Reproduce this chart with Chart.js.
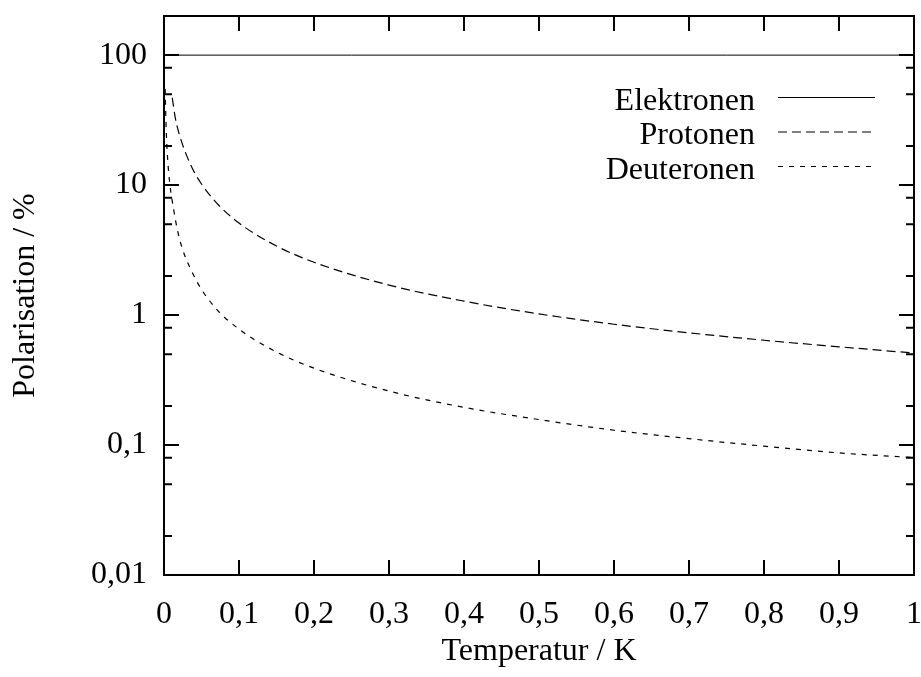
<!DOCTYPE html>
<html>
<head>
<meta charset="utf-8">
<title>Polarisation</title>
<script src="https://cdn.jsdelivr.net/npm/chart.js@4.4.1/dist/chart.umd.min.js"></script>
<style>
  html, body { margin: 0; padding: 0; background: #fff; }
  #wrap { width: 921px; height: 677px; position: relative; }
</style>
</head>
<body>
<div id="wrap"><canvas id="myChart"></canvas></div>
<script>
// Werte
const tempE = [0, 0.25, 0.5, 0.75, 1];
const polE = [100, 100, 100, 100, 100];

const tempP = [0.011, 0.015, 0.02, 0.03, 0.04, 0.05, 0.07, 0.1, 0.15, 0.2, 0.3, 0.4, 0.5, 0.6, 0.7, 0.8, 0.9, 1.0];
const polP = [47, 33, 25, 17, 12.7, 10.2, 7.3, 5.1, 3.4, 2.55, 1.7, 1.28, 1.02, 0.85, 0.73, 0.64, 0.57, 0.51];

const tempD = [0.0015, 0.003, 0.005, 0.0075, 0.0103, 0.02, 0.04, 0.066, 0.1, 0.15, 0.2, 0.3, 0.4, 0.5, 0.6, 0.7, 0.8, 0.9, 1.0];
const polD = [55, 26, 15.5, 10.5, 8.0, 4.0, 2.0, 1.18, 0.78, 0.52, 0.39, 0.26, 0.195, 0.157, 0.13, 0.112, 0.098, 0.087, 0.080];

const seriesNames = ['Elektronen', 'Protonen', 'Deuteronen'];

const xTickValues = [0, 0.1, 0.2, 0.3, 0.4, 0.5, 0.6, 0.7, 0.8, 0.9, 1];
const xTickLabels = ['0', '0,1', '0,2', '0,3', '0,4', '0,5', '0,6', '0,7', '0,8', '0,9', '1'];
const yTickValues = [0.01, 0.1, 1, 10, 100];
const yTickLabels = ['0,01', '0,1', '1', '10', '100'];
const yMinorTicks = [0.02, 0.05, 0.08, 0.2, 0.5, 0.8, 2, 5, 8, 20, 50, 80];

const toPoints = (xs, ys) => xs.map((x, i) => ({ x: x, y: ys[i] }));

Chart.defaults.font.family = "'Liberation Serif', 'DejaVu Serif', serif";
Chart.defaults.font.size = 32;
Chart.defaults.color = '#000';

// Rahmen und Striche nach innen, wie bei gnuplot
const framePlugin = {
    id: 'frame',
    afterDatasetsDraw(chart) {
        const { ctx, chartArea: a, scales } = chart;
        ctx.save();
        ctx.strokeStyle = '#000';
        ctx.lineWidth = 2;
        ctx.setLineDash([]);
        ctx.beginPath();
        xTickValues.forEach(v => {
            const px = scales.x.getPixelForValue(v);
            ctx.moveTo(px, a.bottom); ctx.lineTo(px, a.bottom - 15);
            ctx.moveTo(px, a.top); ctx.lineTo(px, a.top + 15);
        });
        yTickValues.forEach(v => {
            const py = scales.y.getPixelForValue(v);
            ctx.moveTo(a.left, py); ctx.lineTo(a.left + 15, py);
            ctx.moveTo(a.right, py); ctx.lineTo(a.right - 15, py);
        });
        yMinorTicks.forEach(v => {
            const py = scales.y.getPixelForValue(v);
            ctx.moveTo(a.left, py); ctx.lineTo(a.left + 8, py);
            ctx.moveTo(a.right, py); ctx.lineTo(a.right - 8, py);
        });
        ctx.stroke();
        ctx.strokeRect(a.left, a.top, a.right - a.left, a.bottom - a.top);
        ctx.restore();
    }
};

// Legende rechts oben: Text rechtsbündig, Linie daneben
const keyPlugin = {
    id: 'key',
    afterDraw(chart) {
        const ctx = chart.ctx;
        ctx.save();
        ctx.font = "32px 'Liberation Serif', serif";
        ctx.fillStyle = '#000';
        ctx.textAlign = 'right';
        ctx.textBaseline = 'alphabetic';
        chart.data.datasets.forEach((ds, i) => {
            const y = 97.5 + i * 34.5;
            ctx.fillText(ds.label, 755, y + 12);
            ctx.strokeStyle = ds.borderColor;
            ctx.lineWidth = ds.borderWidth;
            ctx.setLineDash(ds.borderDash || []);
            ctx.beginPath();
            ctx.moveTo(778, y);
            ctx.lineTo(875, y);
            ctx.stroke();
        });
        ctx.restore();
    }
};

new Chart(document.getElementById('myChart'), {
    type: 'line',
    data: {
        datasets: [
            {
                label: seriesNames[0],
                data: toPoints(tempE, polE),
                borderColor: '#000',
                borderWidth: 1,
                pointRadius: 0
            },
            {
                label: seriesNames[1],
                data: toPoints(tempP, polP),
                borderColor: '#000',
                borderWidth: 1.2,
                borderDash: [9, 5],
                pointRadius: 0,
                cubicInterpolationMode: 'monotone'
            },
            {
                label: seriesNames[2],
                data: toPoints(tempD, polD),
                borderColor: '#000',
                borderWidth: 1.2,
                borderDash: [5, 6],
                pointRadius: 0,
                cubicInterpolationMode: 'monotone'
            }
        ]
    },
    options: {
        responsive: true,
        maintainAspectRatio: false,
        animation: false,
        layout: { padding: { top: 16, right: 7, left: 0, bottom: 0 } },
        plugins: {
            legend: { display: false },
            tooltip: { enabled: false }
        },
        scales: {
            x: {
                type: 'linear',
                min: 0,
                max: 1,
                grid: { display: false, drawTicks: false },
                border: { display: false },
                afterBuildTicks: s => { s.ticks = xTickValues.map(v => ({ value: v })); },
                afterFit: s => {
                    s.height = 102;
                    s.paddingLeft = 0;
                    s.paddingRight = 0;
                },
                ticks: {
                    padding: 20,
                    maxRotation: 0,
                    autoSkip: false,
                    callback: (v, i) => xTickLabels[i]
                },
                title: {
                    display: true,
                    text: 'Temperatur / K',
                    padding: { top: 0, bottom: 6 }
                }
            },
            y: {
                type: 'logarithmic',
                min: 0.01,
                max: 200,
                grid: { display: false, drawTicks: false },
                border: { display: false },
                afterBuildTicks: s => { s.ticks = yTickValues.map(v => ({ value: v })); },
                afterFit: s => {
                    s.width = 164;
                    s.paddingTop = 0;
                    s.paddingBottom = 0;
                },
                ticks: {
                    padding: 17,
                    autoSkip: false,
                    callback: (v, i) => yTickLabels[i]
                },
                title: {
                    display: true,
                    text: 'Polarisation / %',
                    padding: { top: 6, bottom: 0 }
                }
            }
        }
    },
    plugins: [framePlugin, keyPlugin]
});
</script>
</body>
</html>
